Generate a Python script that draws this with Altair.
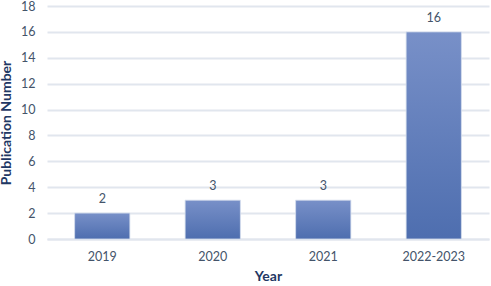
import altair as alt
import pandas as pd

years = ["2019", "2020", "2021", "2022-2023"]
counts = [2, 3, 3, 16]
y_ticks = [0, 2, 4, 6, 8, 10, 12, 14, 16, 18]

df = pd.DataFrame({"Year": years, "Count": counts})

FONT = "Lato"
LABEL = "#44546A"
TITLE = "#1F3864"

grad = alt.LinearGradient(
    gradient="linear",
    stops=[alt.GradientStop(color="#7890C8", offset=0),
           alt.GradientStop(color="#4E6EAF", offset=1)],
    x1=0, x2=0, y1=0, y2=1,
)

x = alt.X("Year:N", sort=years,
          scale=alt.Scale(paddingInner=0.5, paddingOuter=0.25),
          axis=alt.Axis(title="Year", labelAngle=0, ticks=False, domain=True,
                        domainColor="#E1E6EE", domainWidth=2,
                        labelPadding=11, labelFontSize=12.5, labelColor=LABEL,
                        labelFont=FONT, titleFont=FONT, titleFontSize=14,
                        titleFontWeight="bold", titleColor=TITLE, titlePadding=7))
y = alt.Y("Count:Q",
          scale=alt.Scale(domain=[0, 18], nice=False),
          axis=alt.Axis(title="Publication Number", values=y_ticks, ticks=False,
                        domain=False, gridColor="#E1E6EE", gridWidth=2,
                        labelOverlap=False,
                        labelPadding=12, labelFontSize=12.5, labelColor=LABEL,
                        labelFont=FONT, titleFont=FONT, titleFontSize=14,
                        titleFontWeight="bold", titleColor=TITLE, titlePadding=7))

bars = alt.Chart(df).mark_bar(color=grad, stroke="#D6DEEE", strokeWidth=0.8).encode(x=x, y=y)
text = alt.Chart(df).mark_text(dy=-14, fontSize=12.5, font=FONT, color=LABEL).encode(
    x=x, y=y, text="Count:Q")

chart = (bars + text).properties(
    width=442, height=233,
    background="white",
    autosize=alt.AutoSizeParams(type="none"),
    padding={"left": 47, "top": 6, "right": 2, "bottom": 47},
).configure_view(strokeWidth=0, stroke="transparent")

chart.save("out.html", embed_options={"renderer": "svg", "actions": False})
